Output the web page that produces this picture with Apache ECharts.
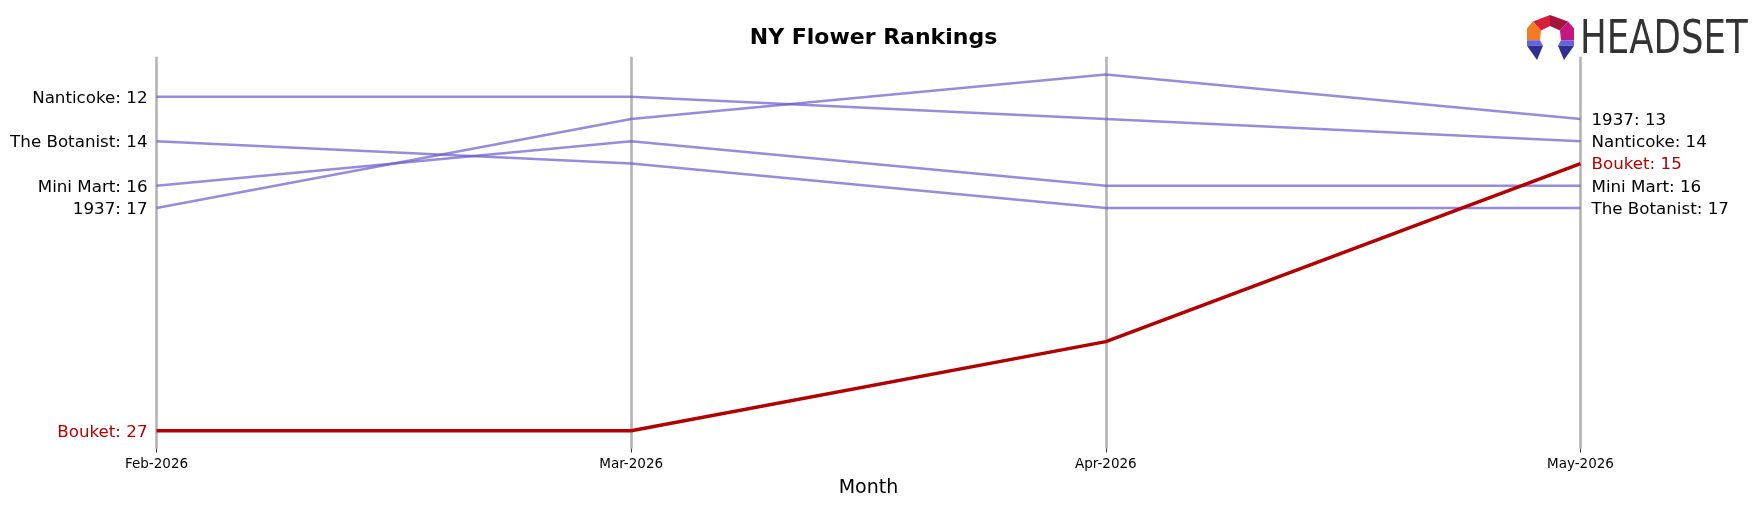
<!DOCTYPE html>
<html>
<head>
<meta charset="utf-8">
<script src="https://cdn.jsdelivr.net/npm/echarts@6/dist/echarts.min.js"></script>
<style>html,body{margin:0;padding:0;background:#fff}#c{width:1764px;height:507px}</style>
</head>
<body>
<div id="c"></div>
<script>
const months = ['Feb-2026', 'Mar-2026', 'Apr-2026', 'May-2026'];
const brands = ['Nanticoke', 'The Botanist', 'Mini Mart', '1937', 'Bouket'];
const nanticoke = [12, 12, 13, 14];
const theBotanist = [14, 15, 17, 17];
const miniMart = [16, 14, 16, 16];
const r1937 = [17, 13, 11, 13];
const bouket = [27, 27, 23, 15];
const ranks = [nanticoke, theBotanist, miniMart, r1937, bouket];
const highlight = 'Bouket';

const FONT = 'DejaVu Sans';
const PURPLE = 'rgba(106,90,205,0.7)';
const RED = '#b30000';

function buildData(name, vals, color) {
  const last = vals.length - 1;
  return vals.map((v, i) => {
    const item = { value: v };
    if (i === 0) {
      item.label = { show: true, position: 'left', distance: 9, offset: [0, 1.5], formatter: name + ': ' + v, color: color, fontSize: 16.7, fontFamily: FONT };
    } else if (i === last) {
      item.label = { show: true, position: 'right', distance: 11, offset: [0, 1.5], formatter: name + ': ' + v, color: color, fontSize: 16.7, fontFamily: FONT };
    } else {
      item.label = { show: false };
    }
    return item;
  });
}

const series = brands.map((b, k) => {
  const hl = b === highlight;
  return {
    type: 'line',
    name: b,
    data: buildData(b, ranks[k], hl ? RED : '#000'),
    symbol: 'circle',
    symbolSize: 0,
    showSymbol: true,
    z: hl ? 5 : 3,
    lineStyle: { color: hl ? RED : PURPLE, width: hl ? 3.5 : 2.5 },
    itemStyle: { color: hl ? RED : PURPLE },
    emphasis: { disabled: true },
    animation: false
  };
});

const chart = echarts.init(document.getElementById('c'), null, { renderer: 'canvas' });

// Logo pieces (decorative)
const ox = 1527, oy = 15, sy = 1.1;
function P(pts) { return pts.map(p => [ox + p[0], oy + p[1] * sy]); }
const logo = [
  { pts: [[6,6],[23,0],[23,10],[14,14]], c: '#d81f3c' },
  { pts: [[23,0],[41,6],[33,14],[23,10]], c: '#a3143e' },
  { pts: [[6,6],[14,14],[13,23],[0,23],[0,12]], c: '#f47a24' },
  { pts: [[41,6],[47,12],[47,23],[34,23],[33,14]], c: '#c4187c' },
  { pts: [[0,23],[13,23],[16,28],[0,28]], c: '#6464dc' },
  { pts: [[47,23],[34,23],[31,28],[47,28]], c: '#6464dc' },
  { pts: [[0,28],[16,28],[10,41]], c: '#2e2f8f' },
  { pts: [[47,28],[31,28],[37,41]], c: '#2e2f8f' }
].map(s => ({ type: 'polygon', shape: { points: P(s.pts) }, style: { fill: s.c }, silent: true }));

chart.setOption({
  animation: false,
  backgroundColor: '#fff',
  title: {
    text: 'NY Flower Rankings',
    left: 868.5, top: 22, textAlign: 'center',
    textStyle: { fontFamily: FONT, fontWeight: 'bold', fontSize: 22, color: '#000' }
  },
  grid: { left: 156.5, right: 183.5, top: 56.7, bottom: 58.5, containLabel: false },
  xAxis: {
    type: 'category',
    data: months,
    boundaryGap: false,
    name: 'Month',
    nameLocation: 'middle',
    nameGap: 30,
    nameTextStyle: { fontFamily: FONT, fontSize: 19, color: '#000' },
    axisLine: { show: false },
    axisTick: { show: true, length: 4, lineStyle: { color: '#000', width: 0.8 } },
    axisLabel: { fontFamily: FONT, fontSize: 13.5, color: '#000', margin: 9 },
    splitLine: { show: true, interval: 0, lineStyle: { color: '#b3b3b3', width: 2.6 } }
  },
  yAxis: {
    type: 'value',
    inverse: true,
    min: 10.2,
    max: 27.8,
    show: false,
    splitLine: { show: false }
  },
  series: series,
  graphic: logo.concat([
    {
      type: 'text', x: 1580, y: 17, scaleX: 0.79, scaleY: 1.04, silent: true,
      style: { text: 'HEADSET', fontFamily: 'DejaVu Sans', fontSize: 45, fill: '#333333' }
    }
  ])
});
</script>
</body>
</html>
